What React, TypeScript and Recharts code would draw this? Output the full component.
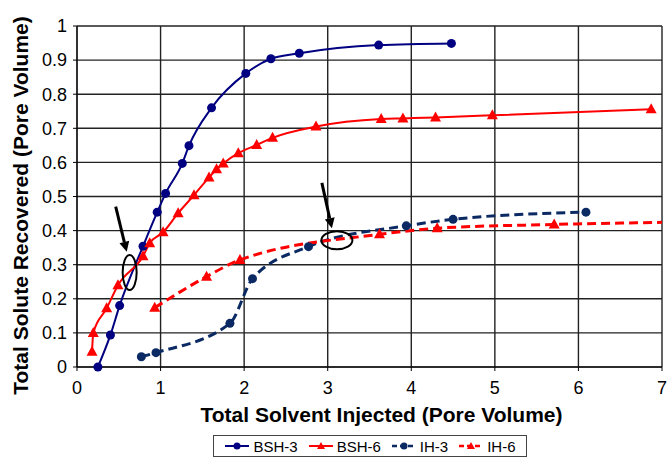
import {
  CartesianGrid,
  Legend,
  Line,
  LineChart,
  ReferenceDot,
  ReferenceLine,
  XAxis,
  YAxis,
} from "recharts";

// values (pore volumes)
const bsh3X = [0.25, 0.4, 0.51, 0.79, 0.96, 1.06, 1.26, 1.34, 1.61, 2.02, 2.32, 2.66, 3.61, 4.48];
const bsh3Y = [0, 0.094, 0.18, 0.354, 0.454, 0.509, 0.597, 0.649, 0.76, 0.861, 0.904, 0.92, 0.944, 0.949];

const bsh6X = [0.18, 0.195, 0.355, 0.49, 0.79, 0.87, 1.03, 1.21, 1.4, 1.58, 1.67, 1.75, 1.93, 2.15, 2.34, 2.86, 3.64, 3.9, 4.29, 4.97, 6.87];
const bsh6Y = [0.045, 0.1, 0.172, 0.24, 0.325, 0.363, 0.395, 0.451, 0.504, 0.556, 0.58, 0.597, 0.627, 0.651, 0.672, 0.705, 0.727, 0.729, 0.732, 0.738, 0.756];

const ih3X = [0.77, 0.945, 1.83, 2.1, 2.77, 3.94, 4.5, 6.09];
const ih3Y = [0.03, 0.042, 0.128, 0.259, 0.353, 0.414, 0.433, 0.454];

// last IH-6 point runs past the right edge of the axis
const ih6X = [0.93, 1.55, 1.95, 3.62, 4.31, 5.71, 7.2];
const ih6Y = [0.174, 0.265, 0.314, 0.389, 0.407, 0.418, 0.425];

const xTicks = [0, 1, 2, 3, 4, 5, 6, 7];
const yTicks = [0, 0.1, 0.2, 0.3, 0.4, 0.5, 0.6, 0.7, 0.8, 0.9, 1];

// annotation anchors in data units
const arrows = [
  { from: { x: 0.463, y: 0.47 }, to: { x: 0.595, y: 0.338 } },
  { from: { x: 2.93, y: 0.54 }, to: { x: 3.05, y: 0.407 } },
];
const rings = [
  { x: 0.63, y: 0.277, rx: 7, ry: 17.5 },
  { x: 3.11, y: 0.372, rx: 15.5, ry: 9 },
];

const toPoints = (xs: number[], ys: number[]) => xs.map((x, i) => ({ x, y: ys[i] }));

const FONT = '"Liberation Sans", Arial, sans-serif';
const NAVY = "#000080";
const DARK_NAVY = "#0b2a63";
const RED = "#ff0000";

const series = [
  { name: "BSH-3", data: toPoints(bsh3X, bsh3Y), color: NAVY, dashed: false, marker: "circle" },
  { name: "BSH-6", data: toPoints(bsh6X, bsh6Y), color: RED, dashed: false, marker: "triangle" },
  { name: "IH-3", data: toPoints(ih3X, ih3Y), color: DARK_NAVY, dashed: true, marker: "circle" },
  { name: "IH-6", data: toPoints(ih6X, ih6Y), color: RED, dashed: true, marker: "triangle" },
];

const triangleDot = (color: string) => (props: any) => {
  const { cx, cy, index } = props;
  if (cx == null || cy == null) return <g key={`t-${index}`} />;
  return (
    <polygon
      key={`t-${index}`}
      points={`${cx},${cy - 6} ${cx + 5.5},${cy + 4} ${cx - 5.5},${cy + 4}`}
      fill={color}
    />
  );
};

const arrowShape = (props: any) => {
  const { x1, y1, x2, y2 } = props;
  const ang = Math.atan2(y2 - y1, x2 - x1);
  const len = 10;
  const w = 5;
  const bx = x2 - len * Math.cos(ang);
  const by = y2 - len * Math.sin(ang);
  const px = -Math.sin(ang) * w;
  const py = Math.cos(ang) * w;
  return (
    <g>
      <line x1={x1} y1={y1} x2={bx} y2={by} stroke="#000" strokeWidth={3} />
      <polygon points={`${x2},${y2} ${bx + px},${by + py} ${bx - px},${by - py}`} fill="#000" />
    </g>
  );
};

const LegendBox = () => (
  <div
    style={{
      boxSizing: "border-box",
      height: 22,
      width: 314,
      border: "1px solid #444",
      display: "flex",
      alignItems: "center",
      justifyContent: "center",
      gap: 10,
      fontFamily: FONT,
      fontSize: 15,
      background: "#fff",
    }}
  >
    {series.map((s) => (
      <div key={s.name} style={{ display: "flex", alignItems: "center", gap: 3 }}>
        <svg width={26} height={12}>
          <line
            x1={1}
            y1={6}
            x2={25}
            y2={6}
            stroke={s.color}
            strokeWidth={s.dashed ? 2.5 : 2}
            strokeDasharray={s.dashed ? "5 3" : undefined}
          />
          {s.marker === "circle" ? (
            <circle cx={13} cy={6} r={3.5} fill={s.color} />
          ) : (
            <polygon points="13,2 17,9 9,9" fill={s.color} />
          )}
        </svg>
        <span>{s.name}</span>
      </div>
    ))}
  </div>
);

const YLabel = (props: any) => {
  const { viewBox } = props;
  const cy = viewBox.y + viewBox.height / 2 + 9;
  return (
    <text
      x={20}
      y={cy}
      transform={`rotate(-90, 20, ${cy})`}
      textAnchor="middle"
      dominantBaseline="central"
      fontFamily={FONT}
      fontSize={21}
      fontWeight="bold"
      fill="#000"
    >
      Total Solute Recovered (Pore Volume)
    </text>
  );
};

export default function App() {
  return (
    <div style={{ position: "absolute", left: 0, top: 0, background: "#fff" }}>
      <LineChart width={672} height={457} margin={{ top: 26, right: 10, bottom: 0, left: 17 }}>
        <CartesianGrid stroke="#222" strokeWidth={1.4} />
        <XAxis
          dataKey="x"
          type="number"
          domain={[0, 7]}
          ticks={xTicks}
          allowDataOverflow
          height={68}
          tickSize={4}
          tickMargin={10}
          stroke="#000"
          tick={{ fontFamily: FONT, fontSize: 18, fill: "#000" }}
          label={{
            value: "Total Solvent Injected (Pore Volume)",
            position: "insideBottom",
            offset: 13,
            dx: 12,
            style: { fontFamily: FONT, fontSize: 21, fontWeight: "bold", fill: "#000" },
          }}
        />
        <YAxis
          dataKey="y"
          type="number"
          domain={[0, 1]}
          ticks={yTicks}
          width={60}
          tickSize={4}
          tickMargin={6}
          stroke="#000"
          tick={{ fontFamily: FONT, fontSize: 18, fill: "#000" }}
          label={<YLabel />}
        />
        {series.map((s) => (
          <Line
            key={s.name}
            name={s.name}
            data={s.data}
            dataKey="y"
            type="monotone"
            stroke={s.color}
            strokeWidth={s.dashed ? 3 : 2}
            strokeDasharray={s.dashed ? "9 5" : undefined}
            dot={s.marker === "circle" ? { r: 4.5, fill: s.color, stroke: s.color, strokeWidth: 0 } : triangleDot(s.color)}
            activeDot={false}
            isAnimationActive={false}
          />
        ))}
        {arrows.map((a, i) => (
          <ReferenceLine key={`arrow-${i}`} segment={[a.from, a.to]} shape={arrowShape} />
        ))}
        {rings.map((r, i) => (
          <ReferenceDot
            key={`ring-${i}`}
            x={r.x}
            y={r.y}
            shape={(p: any) => (
              <ellipse cx={p.cx} cy={p.cy} rx={r.rx} ry={r.ry} fill="none" stroke="#000" strokeWidth={2} />
            )}
          />
        ))}
        <Legend
          verticalAlign="bottom"
          content={<LegendBox />}
          wrapperStyle={{ left: 213, width: 314 }}
        />
      </LineChart>
    </div>
  );
}
